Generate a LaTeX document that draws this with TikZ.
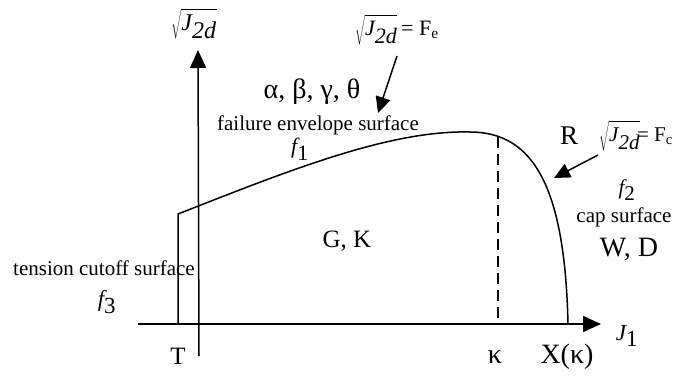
\documentclass[tikz,border=0pt]{standalone}
\usepackage{fontspec}
\setmainfont{Liberation Serif}
\usetikzlibrary{arrows.meta}
\newcommand{\sqJd}{$\sqrt{\rule[-0.3em]{0pt}{1.15em}\textit{J}_{\textit{2d}}}$}
\newcommand{\fsz}[1]{\fontsize{#1}{#1}\selectfont}
\tikzset{
  axis/.style={line width=1.5pt},
  curve/.style={line width=1.5pt},
  bigtip/.style={-{Triangle[length=18pt,width=16pt]}},
  lbl/.style={inner sep=0pt},
}
\begin{document}
\begin{tikzpicture}[x=1pt,y=-1pt]
\useasboundingbox (0,0) rectangle (678,376);
% axes
\coordinate (hx0) at (138,324);
\coordinate (hx1) at (601,324);
\coordinate (vy0) at (199,356);
\coordinate (vy1) at (198,50);
\draw[axis,bigtip] (hx0) -- (hx1);
\draw[axis,bigtip] (vy0) -- (vy1);
% yield surface
\coordinate (tb) at (178,324);
\coordinate (tt) at (178,214);
\coordinate (pk) at (470,132);
\coordinate (xk) at (568,324);
\draw[curve] (tb) -- (tt) .. controls (290,170) and (390,130) .. (pk)
  .. controls (535,132) and (565,190) .. (xk);
% dashed kappa line
\coordinate (kt) at (498,137);
\coordinate (kb) at (498,324);
\draw[line width=1.4pt,dash pattern=on 11pt off 6pt] (kt) -- (kb);
% pointer arrows
\coordinate (a1s) at (397,56);
\coordinate (a1e) at (378,113);
\draw[line width=1.5pt,-{Triangle[length=16pt,width=15pt]}] (a1s) -- (a1e);
\coordinate (a2s) at (598,155);
\coordinate (a2e) at (554,178);
\draw[line width=1.5pt,-{Triangle[length=16pt,width=15pt]}] (a2s) -- (a2e);
% labels
\node[lbl,font=\fsz{24}] (yl) at (194,24) {\sqJd};
\node[lbl,font=\fsz{22},anchor=west] (fe) at (355,30) {\sqJd\,= F\textsubscript{e}};
\node[lbl,font=\fsz{28}] (abg) at (312,92) {α, β, γ, θ};
\node[lbl,font=\fsz{21}] (fes) at (318,125) {failure envelope surface};
\node[lbl,font=\fsz{22}] (f1) at (300,149) {$\textit{f}_{\textrm{1}}$};
\node[lbl,font=\fsz{27}] (R) at (569,136) {R};
\node[lbl,font=\fsz{21},anchor=west] (fc) at (599,136) {\sqJd\kern-3pt= F\textsubscript{c}};
\node[lbl,font=\fsz{21}] (f2) at (627,190) {$\textit{f}_{\textrm{2}}$};
\node[lbl,font=\fsz{21}] (cap) at (624,217) {cap surface};
\node[lbl,font=\fsz{28}] (wd) at (629,249) {W, D};
\node[lbl,font=\fsz{25}] (gk) at (347,241) {G, K};
\node[lbl,font=\fsz{21}] (tcs) at (104,268) {tension cutoff surface};
\node[lbl,font=\fsz{23}] (f3) at (107,302) {$\textit{f}_{\textrm{3}}$};
\node[lbl,font=\fsz{25}] (T) at (178,356) {T};
\node[lbl,font=\fsz{28}] (kap) at (495,357) {κ};
\node[lbl,font=\fsz{28}] (Xk) at (567,357) {X(κ)};
\node[lbl,font=\fsz{23}] (J1) at (627,336) {$\textit{J}_{\textrm{1}}$};
\end{tikzpicture}
\end{document}
